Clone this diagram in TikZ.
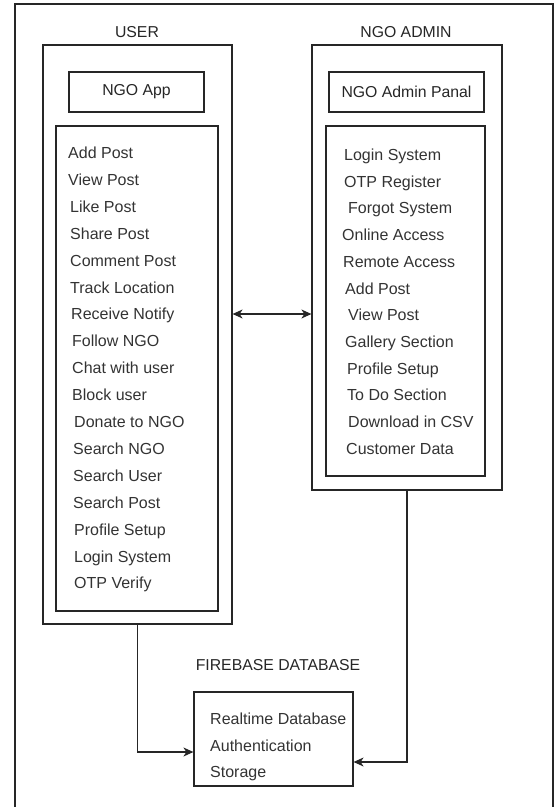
\documentclass[tikz,border=0pt]{standalone}
\usepackage{fontspec}
\setmainfont{Liberation Sans}
\usepackage{tikz}
\usetikzlibrary{arrows.meta,calc}

\tikzset{
  box/.style={draw=black!85, line width=1.2pt, inner sep=0pt},
  title/.style={text=black!85, font=\fontsize{15.8}{18}\selectfont, inner sep=0pt},
  entry/.style={anchor=west, text=black!80, font=\fontsize{16}{18}\selectfont,
    inner sep=0pt, text height=11pt, text depth=0pt},
  link/.style={line width=1.2pt, draw=black!85, -{Stealth[length=10pt,width=9pt,inset=3pt]}},
}

\begin{document}
\begin{tikzpicture}[x=1pt,y=-1pt]
\useasboundingbox (0,0) rectangle (555,807);
\draw[line width=1.2pt, black!85] (15,807) |- (553,4) -- (553,807);

\node[title] (userlbl) at (137,32) {USER};
\node[box, minimum width=189pt, minimum height=579pt] (user) at (137.5,334.5) {};
\node[box, title, minimum width=135pt, minimum height=40pt] (app) at (136.5,92) {NGO App};
\node[box, minimum width=162pt, minimum height=485pt] (userlist) at (137,368.5) {};
\foreach \t/\dx [count=\i from 0] in {Add Post/68, View Post/68, Like Post/70, Share Post/70,
  Comment Post/70, Track Location/70, Receive Notify/71, Follow NGO/72, Chat with user/72,
  Block user/72, Donate to NGO/74, Search NGO/73, Search User/73, Search Post/73,
  Profile Setup/74, Login System/74, OTP Verify/74}
  \node[entry] (u\i) at (\dx,153+26.9*\i) {\t};

\node[title] (adminlbl) at (406,32) {NGO ADMIN};
\node[box, minimum width=190pt, minimum height=445pt] (admin) at (407,267.5) {};
\node[box, title, minimum width=155pt, minimum height=40pt] (panal) at (406.5,92) {NGO Admin Panal};
\node[box, minimum width=159pt, minimum height=350pt] (adminlist) at (405.5,301) {};
\foreach \t/\dx [count=\i from 0] in {Login System/344, OTP Register/344, Forgot System/348,
  Online Access/342, Remote Access/343, Add Post/345, View Post/348, Gallery Section/345,
  Profile Setup/347, To Do Section/347, Download in CSV/348, Customer Data/346}
  \node[entry] (a\i) at (\dx,155+26.7*\i) {\t};

\node[title] (fblbl) at (278,665) {FIREBASE DATABASE};
\node[box, minimum width=159pt, minimum height=94pt] (fb) at (273.5,739) {};
\foreach \t/\dy [count=\i from 0] in {Realtime Database/719, Authentication/746, Storage/772}
  \node[entry] (f\i) at (210,\dy) {\t};

\coordinate (mid) at (272,314);
\draw[link, {Stealth[length=10pt,width=9pt,inset=3pt]}-{Stealth[length=10pt,width=9pt,inset=3pt]}]
  (user.east |- mid) -- (admin.west |- mid);
\draw[link] (user.south) |- ($(fb.west)+(0,13)$);
\draw[link] (admin.south) |- ($(fb.east)+(0,23)$);
\end{tikzpicture}
\end{document}
